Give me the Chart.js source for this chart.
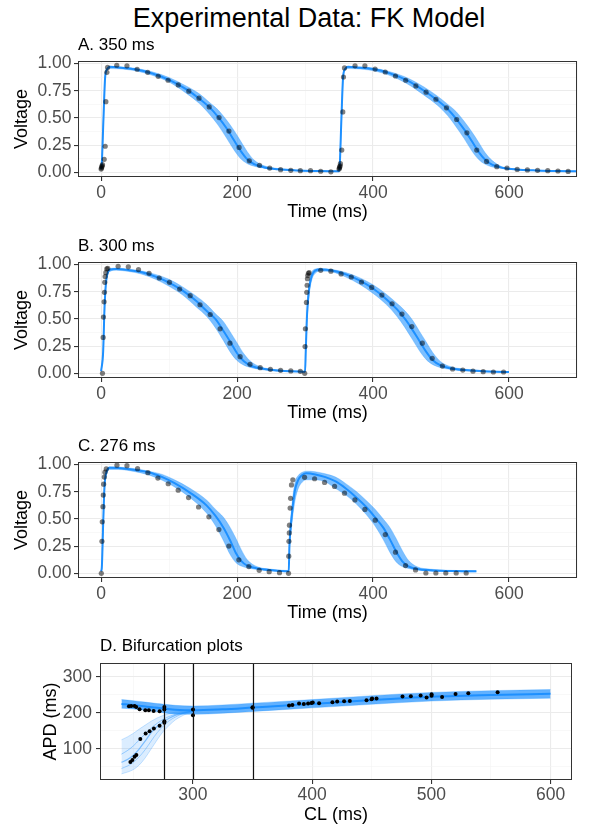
<!DOCTYPE html>
<html lang="en">
<head>
<meta charset="UTF-8">
<title>Experimental Data: FK Model</title>
<script src="https://cdn.jsdelivr.net/npm/chart.js"></script>
<style>
  body { margin: 0; background: #ffffff; }
  #figura { position: relative; width: 590px; height: 828px; font-family: "Liberation Sans", Arial, sans-serif; }
  #titulo { position: absolute; left: 0; top: 2px; width: 618px; text-align: center; font-size: 27px; line-height: 32px; color: #000; }
  canvas { position: absolute; left: 0; }
</style>
</head>
<body>
<div id="figura">
  <div id="titulo">Experimental Data: FK Model</div>
  <canvas id="graficoA" width="590" height="200" style="top:30px"></canvas>
  <canvas id="graficoB" width="590" height="200" style="top:231px"></canvas>
  <canvas id="graficoC" width="590" height="200" style="top:431px"></canvas>
  <canvas id="graficoD" width="590" height="198" style="top:630px"></canvas>
</div>

<script>

    // A. 350 ms pacing: model band (low / mean / high) and recorded samples
    var timeA = [0, 1, 3.5, 6, 9, 13, 25, 50, 75, 100, 125, 145, 160, 172, 184, 195, 205, 215, 225, 240, 260, 290, 320, 349,
                 350, 351, 353.5, 356, 359, 363, 375, 400, 425, 450, 475, 495, 510, 522, 534, 545, 555, 565, 575, 590, 610, 640, 670, 700];
    var meanA = [0.03, 0.08, 0.5, 0.88, 0.95, 0.97, 0.965, 0.948, 0.91, 0.85, 0.765, 0.675, 0.595, 0.51, 0.41, 0.30, 0.20, 0.12, 0.075, 0.045, 0.028, 0.017, 0.012, 0.010,
                 0.01, 0.06, 0.5, 0.88, 0.95, 0.97, 0.965, 0.95, 0.91, 0.845, 0.75, 0.66, 0.58, 0.495, 0.395, 0.29, 0.19, 0.115, 0.07, 0.043, 0.027, 0.017, 0.012, 0.01];
    var lowA = [0.03, 0.07, 0.46, 0.86, 0.94, 0.955, 0.952, 0.935, 0.893, 0.83, 0.728, 0.63, 0.53, 0.435, 0.32, 0.21, 0.127, 0.08, 0.056, 0.037, 0.024, 0.014, 0.009, 0.007,
                0.007, 0.05, 0.46, 0.86, 0.94, 0.955, 0.952, 0.935, 0.89, 0.815, 0.71, 0.615, 0.52, 0.42, 0.31, 0.20, 0.12, 0.074, 0.05, 0.035, 0.022, 0.014, 0.009, 0.007];
    var highA = [0.03, 0.09, 0.54, 0.9, 0.96, 0.975, 0.972, 0.958, 0.925, 0.872, 0.795, 0.72, 0.64, 0.575, 0.485, 0.39, 0.29, 0.19, 0.113, 0.06, 0.035, 0.02, 0.015, 0.013,
                 0.013, 0.08, 0.54, 0.9, 0.96, 0.975, 0.972, 0.96, 0.925, 0.87, 0.785, 0.70, 0.625, 0.56, 0.47, 0.375, 0.28, 0.18, 0.11, 0.05, 0.03, 0.02, 0.015, 0.013];
    var pointsA = [[0,0.03],[0.5,0.04],[1,0.05],[1.5,0.06],[2,0.07],[4.5,0.12],[6,0.24],[7,0.65],[8.5,0.92],[9.5,0.965],
                   [23,0.985],[38,0.98],[53,0.948],[68.5,0.92],[84,0.883],[98.5,0.847],[113.5,0.804],[129,0.746],[144,0.682],[159,0.602],
                   [173.5,0.504],[188,0.379],[203,0.229],[218,0.106],[233,0.064],[248,0.039],[264,0.024],[279,0.018],[293,0.015],[308,0.015],
                   [323,0.01],[338,0.005],[350,0.03],[350.5,0.04],[351,0.05],[351.5,0.06],[352,0.08],[354,0.205],[355.5,0.556],[356.5,0.877],
                   [358,0.96],[373.5,0.98],[388,0.98],[403,0.95],[418,0.923],[433,0.886],[448,0.847],[463,0.795],[478,0.737],[492.5,0.672],
                   [508,0.593],[523,0.486],[538,0.363],[552.5,0.205],[567,0.1],[582,0.052],[597,0.04],[612,0.027],[627,0.022],[642,0.018],
                   [657,0.015],[672,0.012],[687,0.008]];

    // B. 300 ms pacing
    var timeB = [0, 3, 5, 7, 10, 14, 22, 40, 60, 80, 100, 120, 140, 155, 168, 180, 190, 200, 210, 222, 240, 260, 280, 299,
                 300, 301, 303, 306, 310, 315, 322, 340, 360, 380, 400, 420, 435, 447, 458, 468, 478, 488, 500, 515, 535, 560, 580, 600];
    var meanB = [0.02, 0.2, 0.6, 0.82, 0.93, 0.955, 0.96, 0.95, 0.93, 0.89, 0.835, 0.76, 0.665, 0.575, 0.5, 0.39, 0.29, 0.185, 0.11, 0.065, 0.04, 0.026, 0.018, 0.015,
                 0.015, 0.2, 0.55, 0.78, 0.9, 0.945, 0.955, 0.945, 0.91, 0.855, 0.78, 0.68, 0.59, 0.5, 0.4, 0.3, 0.2, 0.12, 0.07, 0.045, 0.03, 0.02, 0.015, 0.012];
    var lowB = [0.02, 0.17, 0.55, 0.79, 0.91, 0.94, 0.948, 0.937, 0.912, 0.865, 0.8, 0.72, 0.61, 0.525, 0.42, 0.3, 0.195, 0.117, 0.075, 0.05, 0.03, 0.02, 0.014, 0.011,
                0.011, 0.15, 0.48, 0.72, 0.86, 0.92, 0.94, 0.932, 0.885, 0.82, 0.735, 0.63, 0.525, 0.42, 0.31, 0.21, 0.128, 0.08, 0.052, 0.035, 0.023, 0.015, 0.012, 0.01];
    var highB = [0.02, 0.23, 0.65, 0.85, 0.945, 0.965, 0.968, 0.958, 0.942, 0.91, 0.865, 0.795, 0.71, 0.635, 0.55, 0.475, 0.38, 0.28, 0.18, 0.1, 0.05, 0.032, 0.022, 0.018,
                 0.018, 0.25, 0.62, 0.83, 0.93, 0.96, 0.965, 0.955, 0.927, 0.88, 0.815, 0.725, 0.645, 0.575, 0.49, 0.39, 0.29, 0.19, 0.105, 0.06, 0.038, 0.025, 0.019, 0.016];
    var pointsB = [[2,0],[3,0.33],[3.4,0.517],[4.4,0.658],[4.9,0.745],[5.4,0.837],[5.9,0.89],[6.9,0.926],[8.3,0.96],[9.8,0.965],
                   [25,0.985],[40,0.98],[55,0.954],[70.5,0.92],[85.5,0.877],[100.5,0.837],[115.5,0.775],[131,0.714],[145.5,0.631],[160.5,0.541],
                   [175,0.409],[189.5,0.277],[204.5,0.153],[219,0.083],[234,0.052],[249,0.037],[264,0.028],[279,0.022],[293,0.018],[299.5,0],
                   [300,0.246],[300.5,0.41],[302,0.652],[302.5,0.745],[303,0.81],[303.5,0.87],[304,0.9],[305,0.92],[306,0.926],[323,0.947],
                   [338,0.94],[353,0.914],[368,0.886],[383,0.84],[398,0.79],[413,0.72],[428,0.64],[442.5,0.545],[457,0.43],[472.5,0.277],
                   [487,0.138],[502,0.067],[517,0.04],[532,0.03],[547,0.02],[562,0.015],[577,0.012],[592,0.012]];

    // C. 276 ms pacing
    var timeC = [0, 1, 3, 5, 8, 13, 25, 50, 70, 90, 108, 130, 155, 168, 180, 190, 198, 206, 215, 230, 250, 275,
                 276, 277, 280, 285, 290, 296, 302, 315, 330, 345, 360, 375, 390, 403, 415, 425, 434, 443, 452, 465, 485, 510, 530, 552];
    var meanC = [0.02, 0.05, 0.45, 0.8, 0.93, 0.97, 0.968, 0.95, 0.93, 0.885, 0.83, 0.745, 0.625, 0.53, 0.42, 0.3, 0.19, 0.115, 0.07, 0.045, 0.03, 0.02,
                 0.02, 0.25, 0.5, 0.76, 0.86, 0.905, 0.92, 0.91, 0.885, 0.845, 0.78, 0.7, 0.61, 0.515, 0.42, 0.31, 0.2, 0.11, 0.065, 0.04, 0.028, 0.022, 0.02, 0.018];
    var lowC = [0.02, 0.04, 0.4, 0.76, 0.91, 0.955, 0.955, 0.935, 0.905, 0.855, 0.795, 0.7, 0.555, 0.44, 0.3, 0.17, 0.1, 0.067, 0.05, 0.035, 0.022, 0.014,
                0.014, 0.2, 0.42, 0.66, 0.78, 0.84, 0.86, 0.86, 0.84, 0.78, 0.72, 0.64, 0.54, 0.435, 0.31, 0.19, 0.105, 0.062, 0.045, 0.03, 0.02, 0.016, 0.014, 0.013];
    var highC = [0.02, 0.06, 0.5, 0.84, 0.95, 0.98, 0.978, 0.962, 0.94, 0.91, 0.86, 0.785, 0.675, 0.59, 0.515, 0.42, 0.325, 0.22, 0.125, 0.06, 0.038, 0.026,
                 0.026, 0.3, 0.58, 0.83, 0.9, 0.93, 0.94, 0.935, 0.915, 0.885, 0.825, 0.755, 0.67, 0.59, 0.5, 0.42, 0.32, 0.21, 0.12, 0.06, 0.038, 0.028, 0.025, 0.023];
    var pointsC = [[0.3,0],[1.2,0.294],[1.7,0.474],[2.7,0.613],[3.2,0.72],[3.7,0.82],[4.7,0.885],[5.6,0.93],[7.6,0.96],[23.3,0.995],
                   [38,0.99],[53.6,0.963],[68.8,0.926],[83.5,0.876],[98.7,0.824],[113.4,0.765],[128.6,0.697],[143.3,0.61],[158.5,0.52],[173.2,0.402],
                   [187.9,0.251],[202.6,0.124],[217.3,0.062],[232.5,0.028],[247.2,0.015],[262.4,0.006],[275.7,0],
                   [276,0.158],[276.3,0.294],[276.8,0.372],[277,0.443],[278,0.6],[278.7,0.69],[280,0.813],[282,0.86],[299.3,0.883],
                   [314,0.87],[328.7,0.836],[343.4,0.799],[358,0.737],[373.3,0.675],[388,0.588],[403.2,0.489],[418,0.356],[433,0.195],
                   [447.8,0.071],[462.5,0.031],[477.7,0.003],[492.4,0.003],[507,0.003],[522.3,0.003],[537,0.003]];

    // D. bifurcation: long-APD branch band, short-APD branch members, measured APDs
    var clUpper = [240, 250, 260, 270, 276, 285, 300, 325, 350, 375, 400, 450, 500, 550, 600];
    var meanUpper = [225, 222, 218, 214, 212, 209, 207, 210, 215, 220, 225, 236, 245, 250, 253];
    var lowUpper = [213, 211, 207, 203, 200, 197, 196, 199, 204, 209, 214, 224, 233, 238, 241];
    var highUpper = [237, 234, 230, 226, 224, 221, 219, 222, 227, 232, 237, 248, 257, 262, 265];

    var clLower = [240, 245, 250, 255, 260, 265, 270, 275, 280, 285, 290, 295, 300];
    var lowerMin = [30, 35, 42, 55, 75, 100, 125, 148, 165, 180, 190, 198, 203];
    var lowerMax = [125, 133, 143, 155, 166, 177, 186, 193, 198, 202, 204, 206, 206];
    var lower2 = [45, 52, 62, 78, 98, 122, 145, 163, 178, 188, 196, 201, 204];
    var lower3 = [62, 70, 82, 100, 122, 145, 162, 175, 185, 193, 198, 202, 205];
    var lower4 = [85, 95, 108, 125, 142, 158, 171, 182, 190, 196, 200, 203, 205];

    var pointsD = [[246.3,218.6],[248.2,219.5],[251,219.5],[252.4,216.7],[255.2,210.3],[260,207.5],[263,207.5],[267,205.6],[272,204.7],[276,216.7],[276,209.3],
                   [247.5,63],[249.2,68.6],[251,78],[252.5,82.5],[255.8,127],[260.3,142.8],[263.6,149],[267.2,156.6],[272,164],[276,177],[276,172.3],
                   [300,209.4],[300,193.6],[350,214],[350,215.5],
                   [380.6,220.5],[383.4,222],[389,226],[393,224.5],[396.6,226],[399.4,227.8],[400.5,228.7],[405.8,227],[417,229.7],[421,231.6],
                   [426.8,232.5],[431.6,233.4],[445.6,235],[449.8,238],[450.3,240],[454,240],[475.8,245.5],[482.8,246.4],[491,248.2],[496,242.6],
                   [500.2,252],[500.2,248],[509,244.5],[520.3,252.9],[531,254.7],[555.6,257.5]];
    var cyclesD = [276, 300, 350];

    // axis breaks
    var gridTime = [0, 100, 200, 300, 400, 500, 600, 700];
    var labelTime = [0, 200, 400, 600];
    var gridVolt = [0, 0.125, 0.25, 0.375, 0.5, 0.625, 0.75, 0.875, 1];
    var labelVolt = [0, 0.25, 0.5, 0.75, 1];
    var gridCL = [250, 300, 350, 400, 450, 500, 550, 600];
    var labelCL = [300, 400, 500, 600];
    var gridAPD = [50, 100, 150, 200, 250, 300];
    var labelAPD = [100, 200, 300];

    Chart.defaults.font.family = '"Liberation Sans", Arial, sans-serif';

    var azul = '30,144,255';

    function pares(xs, ys) {
        return xs.map((x, i) => ({x: x, y: ys[i]}));
    }

    function linha(xs, ys, cor, largura, extra) {
        return Object.assign({
            data: pares(xs, ys),
            showLine: true,
            borderColor: cor,
            borderWidth: largura,
            pointRadius: 0,
            fill: false,
            cubicInterpolationMode: 'monotone'
        }, extra || {});
    }

    function pontos(lista, cor, raio) {
        return {
            data: lista.map(p => ({x: p[0], y: p[1]})),
            showLine: false,
            pointRadius: raio,
            pointBackgroundColor: cor,
            pointBorderWidth: 0
        };
    }

    // panel border and vertical reference lines
    var moldura = {
        id: 'moldura',
        afterDatasetsDraw(chart, args, opts) {
            const ctx = chart.ctx, a = chart.chartArea;
            ctx.save();
            (opts.vlines || []).forEach(v => {
                const x = Math.round(chart.scales.x.getPixelForValue(v)) + 0.5;
                ctx.strokeStyle = '#111111';
                ctx.lineWidth = 1.2;
                ctx.beginPath();
                ctx.moveTo(x, a.top);
                ctx.lineTo(x, a.bottom);
                ctx.stroke();
            });
            ctx.strokeStyle = '#333333';
            ctx.lineWidth = 1;
            ctx.strokeRect(a.left + 0.5, a.top + 0.5, a.right - a.left - 1, a.bottom - a.top - 1);
            ctx.restore();
        }
    };

    function eixo(cfg) {
        return {
            type: 'linear',
            min: cfg.min,
            max: cfg.max,
            border: { display: false },
            afterBuildTicks: s => { s.ticks = cfg.grid.map(v => ({value: v})); },
            afterFit: s => { if (cfg.width) s.width = cfg.width; if (cfg.height) s.height = cfg.height; },
            grid: {
                color: c => cfg.labels.includes(c.tick.value) ? '#EBEBEB' : '#F3F3F3',
                lineWidth: c => cfg.labels.includes(c.tick.value) ? 1.1 : 0.6,
                tickColor: c => cfg.labels.includes(c.tick.value) ? '#333333' : 'rgba(0,0,0,0)',
                tickLength: 4,
                drawTicks: true
            },
            ticks: {
                autoSkip: false,
                maxRotation: 0,
                padding: cfg.tickPad,
                color: '#4D4D4D',
                font: { size: 17.5 },
                callback: v => cfg.labels.includes(v) ? cfg.fmt(v) : ''
            },
            title: {
                display: true,
                text: cfg.title,
                color: '#000000',
                font: { size: 18 },
                padding: cfg.titlePad
            }
        };
    }

    function grafico(id, titulo, datasets, x, y, geo, vlines) {
        new Chart(document.getElementById(id), {
            type: 'line',
            data: { datasets: datasets },
            options: {
                responsive: false,
                animation: false,
                events: [],
                layout: { padding: { left: 0, right: geo.right, top: 0, bottom: 0 } },
                plugins: {
                    legend: { display: false },
                    tooltip: { enabled: false },
                    title: {
                        display: true,
                        text: titulo,
                        align: 'start',
                        fullSize: false,
                        color: '#000000',
                        font: { size: 17, weight: 'normal' },
                        padding: geo.titlePad
                    },
                    moldura: { vlines: vlines || [] }
                },
                scales: { x: eixo(x), y: eixo(y) }
            },
            plugins: [moldura]
        });
    }

    function painelVoltagem(id, titulo, time, low, mean, high, pts) {
        var sets = [
            pontos(pts, 'rgba(0,0,0,0.5)', 2.6),
            linha(time, mean, 'rgb(' + azul + ')', 2),
            linha(time, low, 'rgba(' + azul + ',0.35)', 0.8),
            linha(time, high, 'rgba(' + azul + ',0.35)', 0.8, { fill: '-1', backgroundColor: 'rgba(' + azul + ',0.58)' })
        ];
        grafico(id, titulo, sets,
            { min: -34, max: 700, grid: gridTime, labels: labelTime, fmt: v => String(v), title: 'Time (ms)',
              height: 53, tickPad: 1.5, titlePad: { top: 0, bottom: 7.5 } },
            { min: -0.043, max: 1.024, grid: gridVolt, labels: labelVolt, fmt: v => v.toFixed(2), title: 'Voltage',
              width: 78, tickPad: 2.5, titlePad: { top: 11, bottom: 0 } },
            { right: 13, titlePad: { top: 5, bottom: 5.6 } });
    }

    painelVoltagem('graficoA', 'A. 350 ms', timeA, lowA, meanA, highA, pointsA);
    painelVoltagem('graficoB', 'B. 300 ms', timeB, lowB, meanB, highB, pointsB);
    painelVoltagem('graficoC', 'C. 276 ms', timeC, lowC, meanC, highC, pointsC);

    var setsD = [
        pontos(pointsD, '#000000', 2),
        linha(clUpper, meanUpper, 'rgb(' + azul + ')', 2),
        linha(clUpper, lowUpper, 'rgba(' + azul + ',0.35)', 0.8),
        linha(clUpper, highUpper, 'rgba(' + azul + ',0.35)', 0.8, { fill: '-1', backgroundColor: 'rgba(' + azul + ',0.7)' }),
        linha(clLower, lowerMin, 'rgba(' + azul + ',0.3)', 0.8),
        linha(clLower, lowerMax, 'rgba(' + azul + ',0.3)', 0.8, { fill: '-1', backgroundColor: 'rgba(' + azul + ',0.16)' }),
        linha(clLower, lower2, 'rgba(' + azul + ',0.35)', 1),
        linha(clLower, lower3, 'rgba(' + azul + ',0.5)', 1.2),
        linha(clLower, lower4, 'rgba(' + azul + ',0.4)', 1)
    ];

    grafico('graficoD', 'D. Bifurcation plots', setsD,
        { min: 222, max: 618, grid: gridCL, labels: labelCL, fmt: v => String(v), title: 'CL (ms)',
          height: 48, tickPad: 1, titlePad: { top: 0, bottom: 2.2 } },
        { min: 13, max: 339, grid: gridAPD, labels: labelAPD, fmt: v => String(v), title: 'APD (ms)',
          width: 100, tickPad: 4, titlePad: { top: 40, bottom: 0 } },
        { right: 18, titlePad: { top: 5.8, bottom: 6.8 } },
        cyclesD);

</script>
</body>
</html>
